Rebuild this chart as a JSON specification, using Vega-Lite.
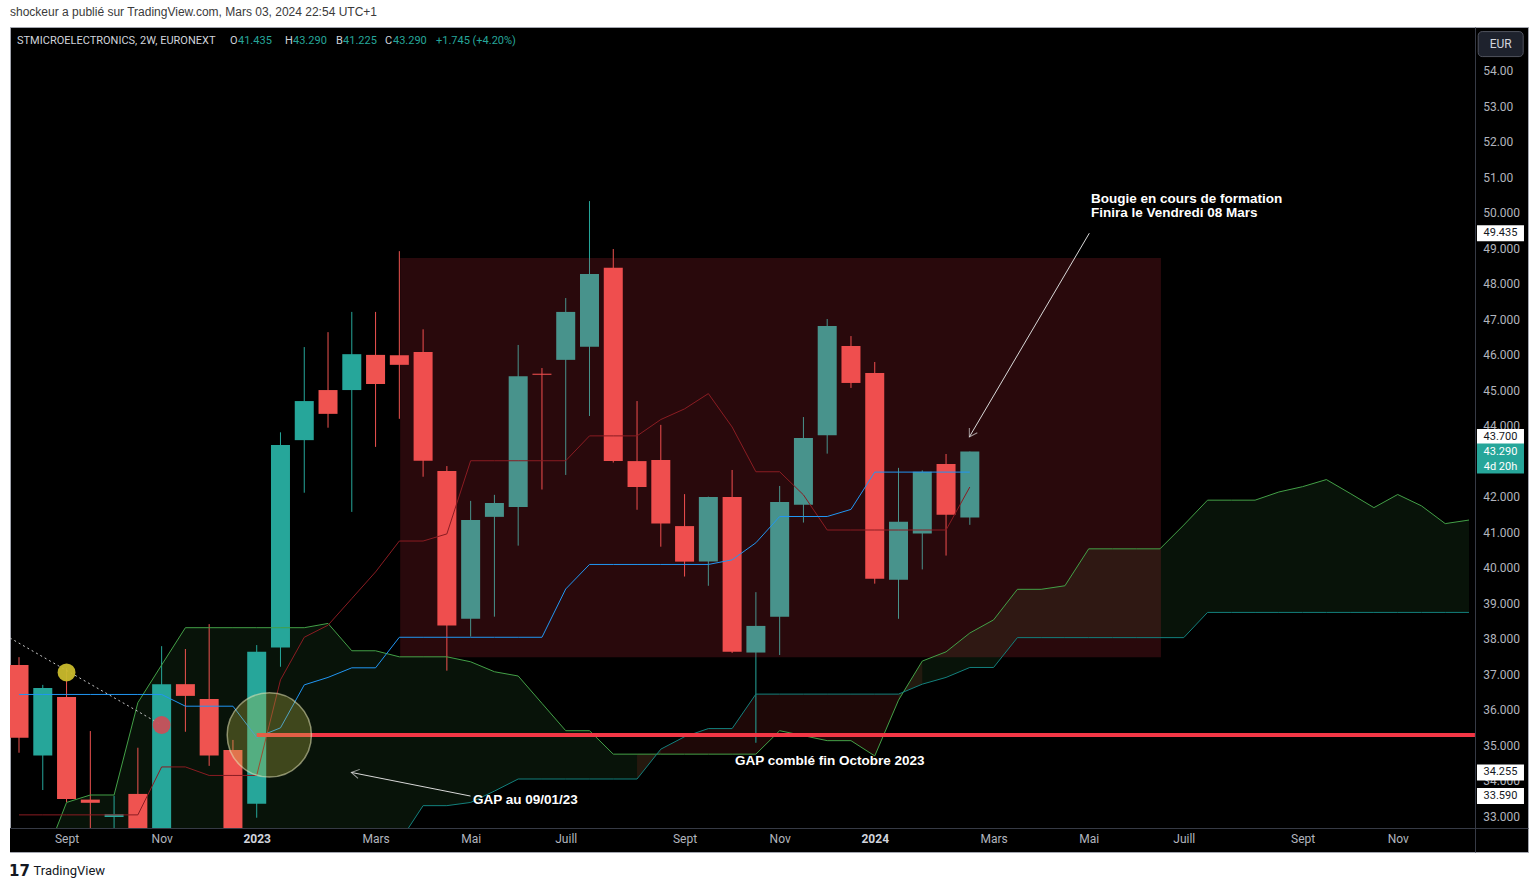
{
  "$schema": "https://vega.github.io/schema/vega-lite/v6.json",
  "width": 1518,
  "height": 825,
  "autosize": {"type": "none"},
  "padding": {"left": 10, "top": 27, "right": 11, "bottom": 36},
  "background": "#ffffff",
  "title": {
    "text": "shockeur a publié sur TradingView.com, Mars 03, 2024 22:54 UTC+1",
    "anchor": "start",
    "frame": "group",
    "font": "Liberation Sans",
    "fontSize": 12,
    "fontWeight": "normal",
    "color": "#3a3a3a",
    "offset": 8
  },
  "datasets": {
    "bars": [
      {"date": "2022-08-15", "open": 37.28, "high": 37.5, "low": 34.81, "close": 35.23, "tenkan": 36.45, "kijun": 33.06},
      {"date": "2022-08-29", "open": 34.73, "high": 36.72, "low": 33.76, "close": 36.63, "tenkan": 36.45, "kijun": 33.06},
      {"date": "2022-09-12", "open": 36.38, "high": 37.19, "low": 33.42, "close": 33.51, "tenkan": 36.45, "kijun": 33.06},
      {"date": "2022-09-26", "open": 33.49, "high": 35.42, "low": 32.5, "close": 33.4, "tenkan": 36.45, "kijun": 33.06},
      {"date": "2022-10-10", "open": 33.0, "high": 33.6, "low": 32.4, "close": 33.08, "tenkan": 36.45, "kijun": 33.06},
      {"date": "2022-10-24", "open": 33.65, "high": 34.95, "low": 32.2, "close": 32.4, "tenkan": 36.45, "kijun": 33.06},
      {"date": "2022-11-07", "open": 32.3, "high": 37.81, "low": 32.0, "close": 36.74, "tenkan": 36.45, "kijun": 34.41},
      {"date": "2022-11-21", "open": 36.74, "high": 37.73, "low": 35.4, "close": 36.41, "tenkan": 36.12, "kijun": 34.41},
      {"date": "2022-12-05", "open": 36.32, "high": 38.43, "low": 34.44, "close": 34.73, "tenkan": 36.12, "kijun": 34.17},
      {"date": "2022-12-19", "open": 34.89, "high": 35.17, "low": 32.3, "close": 32.55, "tenkan": 36.12, "kijun": 34.17},
      {"date": "2023-01-02", "open": 33.37, "high": 37.84, "low": 32.98, "close": 37.65, "tenkan": 35.24, "kijun": 34.17},
      {"date": "2023-01-16", "open": 37.77, "high": 43.83, "low": 37.23, "close": 43.47, "tenkan": 35.51, "kijun": 36.86},
      {"date": "2023-01-30", "open": 43.61, "high": 46.23, "low": 42.13, "close": 44.71, "tenkan": 36.72, "kijun": 38.06},
      {"date": "2023-02-13", "open": 45.02, "high": 46.65, "low": 43.96, "close": 44.35, "tenkan": 36.93, "kijun": 38.4},
      {"date": "2023-02-27", "open": 45.02, "high": 47.22, "low": 41.59, "close": 46.03, "tenkan": 37.2, "kijun": 39.15},
      {"date": "2023-03-13", "open": 46.01, "high": 47.22, "low": 43.42, "close": 45.19, "tenkan": 37.2, "kijun": 39.9},
      {"date": "2023-03-27", "open": 46.0, "high": 48.93, "low": 44.21, "close": 45.73, "tenkan": 38.06, "kijun": 40.77},
      {"date": "2023-04-10", "open": 46.09, "high": 46.73, "low": 42.58, "close": 43.03, "tenkan": 38.06, "kijun": 40.77},
      {"date": "2023-04-24", "open": 42.74, "high": 42.88, "low": 37.12, "close": 38.39, "tenkan": 38.06, "kijun": 40.97},
      {"date": "2023-05-08", "open": 38.58, "high": 41.9, "low": 38.08, "close": 41.36, "tenkan": 38.06, "kijun": 43.03},
      {"date": "2023-05-22", "open": 41.45, "high": 42.07, "low": 38.64, "close": 41.84, "tenkan": 38.06, "kijun": 43.03},
      {"date": "2023-06-05", "open": 41.73, "high": 46.29, "low": 40.64, "close": 45.41, "tenkan": 38.06, "kijun": 43.03},
      {"date": "2023-06-19", "open": 45.48, "high": 45.64, "low": 42.22, "close": 45.45, "tenkan": 38.06, "kijun": 43.03},
      {"date": "2023-07-03", "open": 45.87, "high": 47.61, "low": 42.63, "close": 47.22, "tenkan": 39.42, "kijun": 43.03},
      {"date": "2023-07-17", "open": 46.24, "high": 50.34, "low": 44.29, "close": 48.29, "tenkan": 40.11, "kijun": 43.73},
      {"date": "2023-07-31", "open": 48.46, "high": 48.99, "low": 42.98, "close": 43.02, "tenkan": 40.11, "kijun": 43.73},
      {"date": "2023-08-14", "open": 43.02, "high": 44.71, "low": 41.65, "close": 42.29, "tenkan": 40.11, "kijun": 43.73},
      {"date": "2023-08-28", "open": 43.05, "high": 44.04, "low": 40.61, "close": 41.26, "tenkan": 40.11, "kijun": 44.19},
      {"date": "2023-09-11", "open": 41.19, "high": 42.09, "low": 39.77, "close": 40.19, "tenkan": 40.11, "kijun": 44.49},
      {"date": "2023-09-25", "open": 40.19, "high": 42.02, "low": 39.51, "close": 42.01, "tenkan": 40.11, "kijun": 44.92},
      {"date": "2023-10-09", "open": 42.01, "high": 42.77, "low": 37.62, "close": 37.65, "tenkan": 40.24, "kijun": 43.98},
      {"date": "2023-10-23", "open": 37.63, "high": 39.33, "low": 35.09, "close": 38.38, "tenkan": 40.72, "kijun": 42.72},
      {"date": "2023-11-06", "open": 38.64, "high": 42.32, "low": 37.56, "close": 41.87, "tenkan": 41.46, "kijun": 42.72},
      {"date": "2023-11-20", "open": 41.79, "high": 44.26, "low": 41.29, "close": 43.67, "tenkan": 41.46, "kijun": 42.07},
      {"date": "2023-12-04", "open": 43.75, "high": 47.02, "low": 43.23, "close": 46.82, "tenkan": 41.46, "kijun": 41.08},
      {"date": "2023-12-18", "open": 46.26, "high": 46.54, "low": 45.08, "close": 45.22, "tenkan": 41.66, "kijun": 41.08},
      {"date": "2024-01-01", "open": 45.5, "high": 45.81, "low": 39.57, "close": 39.71, "tenkan": 42.71, "kijun": 41.08},
      {"date": "2024-01-15", "open": 39.68, "high": 42.83, "low": 38.58, "close": 41.31, "tenkan": 42.71, "kijun": 41.08},
      {"date": "2024-01-29", "open": 40.98, "high": 42.76, "low": 39.97, "close": 42.72, "tenkan": 42.71, "kijun": 41.08},
      {"date": "2024-02-12", "open": 42.94, "high": 43.22, "low": 40.36, "close": 41.51, "tenkan": 42.71, "kijun": 41.08},
      {"date": "2024-02-26", "open": 41.435, "high": 43.29, "low": 41.225, "close": 43.29, "tenkan": 42.71, "kijun": 42.29}
    ],
    "cloud": [
      {"date": "2022-08-15", "spanA": 31.5, "spanB": 31.5},
      {"date": "2022-08-29", "spanA": 31.7, "spanB": 31.5},
      {"date": "2022-09-12", "spanA": 33.41, "spanB": 31.5},
      {"date": "2022-09-26", "spanA": 33.62, "spanB": 31.5},
      {"date": "2022-10-10", "spanA": 33.62, "spanB": 31.5},
      {"date": "2022-10-24", "spanA": 36.22, "spanB": 31.5},
      {"date": "2022-11-07", "spanA": 37.28, "spanB": 31.5},
      {"date": "2022-11-21", "spanA": 38.33, "spanB": 31.5},
      {"date": "2022-12-05", "spanA": 38.33, "spanB": 31.5},
      {"date": "2022-12-19", "spanA": 38.33, "spanB": 31.5},
      {"date": "2023-01-02", "spanA": 38.33, "spanB": 31.5},
      {"date": "2023-01-16", "spanA": 38.33, "spanB": 31.5},
      {"date": "2023-01-30", "spanA": 38.33, "spanB": 31.5},
      {"date": "2023-02-13", "spanA": 38.45, "spanB": 31.5},
      {"date": "2023-02-27", "spanA": 37.68, "spanB": 31.5},
      {"date": "2023-03-13", "spanA": 37.68, "spanB": 31.5},
      {"date": "2023-03-27", "spanA": 37.51, "spanB": 32.3},
      {"date": "2023-04-10", "spanA": 37.51, "spanB": 33.32},
      {"date": "2023-04-24", "spanA": 37.51, "spanB": 33.32},
      {"date": "2023-05-08", "spanA": 37.37, "spanB": 33.41},
      {"date": "2023-05-22", "spanA": 37.09, "spanB": 33.73},
      {"date": "2023-06-05", "spanA": 36.97, "spanB": 34.07},
      {"date": "2023-06-19", "spanA": 36.2, "spanB": 34.07},
      {"date": "2023-07-03", "spanA": 35.43, "spanB": 34.07},
      {"date": "2023-07-17", "spanA": 35.43, "spanB": 34.07},
      {"date": "2023-07-31", "spanA": 34.77, "spanB": 34.07},
      {"date": "2023-08-14", "spanA": 34.77, "spanB": 34.07},
      {"date": "2023-08-28", "spanA": 34.77, "spanB": 34.91},
      {"date": "2023-09-11", "spanA": 34.77, "spanB": 35.26},
      {"date": "2023-09-25", "spanA": 34.77, "spanB": 35.49},
      {"date": "2023-10-09", "spanA": 34.77, "spanB": 35.49},
      {"date": "2023-10-23", "spanA": 34.77, "spanB": 36.46},
      {"date": "2023-11-06", "spanA": 35.43, "spanB": 36.46},
      {"date": "2023-11-20", "spanA": 35.29, "spanB": 36.46},
      {"date": "2023-12-04", "spanA": 35.15, "spanB": 36.46},
      {"date": "2023-12-18", "spanA": 35.15, "spanB": 36.46},
      {"date": "2024-01-01", "spanA": 34.72, "spanB": 36.46},
      {"date": "2024-01-15", "spanA": 36.29, "spanB": 36.46},
      {"date": "2024-01-29", "spanA": 37.39, "spanB": 36.74},
      {"date": "2024-02-12", "spanA": 37.65, "spanB": 36.93},
      {"date": "2024-02-26", "spanA": 38.18, "spanB": 37.21},
      {"date": "2024-03-11", "spanA": 38.55, "spanB": 37.21},
      {"date": "2024-03-25", "spanA": 39.41, "spanB": 38.05},
      {"date": "2024-04-08", "spanA": 39.41, "spanB": 38.05},
      {"date": "2024-04-22", "spanA": 39.51, "spanB": 38.05},
      {"date": "2024-05-06", "spanA": 40.55, "spanB": 38.05},
      {"date": "2024-05-20", "spanA": 40.55, "spanB": 38.05},
      {"date": "2024-06-03", "spanA": 40.55, "spanB": 38.05},
      {"date": "2024-06-17", "spanA": 40.55, "spanB": 38.05},
      {"date": "2024-07-01", "spanA": 41.22, "spanB": 38.05},
      {"date": "2024-07-15", "spanA": 41.92, "spanB": 38.76},
      {"date": "2024-07-29", "spanA": 41.92, "spanB": 38.76},
      {"date": "2024-08-12", "spanA": 41.92, "spanB": 38.76},
      {"date": "2024-08-26", "spanA": 42.15, "spanB": 38.76},
      {"date": "2024-09-09", "spanA": 42.3, "spanB": 38.76},
      {"date": "2024-09-23", "spanA": 42.5, "spanB": 38.76},
      {"date": "2024-10-07", "spanA": 42.11, "spanB": 38.76},
      {"date": "2024-10-21", "spanA": 41.71, "spanB": 38.76},
      {"date": "2024-11-04", "spanA": 42.08, "spanB": 38.76},
      {"date": "2024-11-18", "spanA": 41.76, "spanB": 38.76},
      {"date": "2024-12-02", "spanA": 41.26, "spanB": 38.76},
      {"date": "2024-12-16", "spanA": 41.36, "spanB": 38.76}
    ],
    "drawings": [
      {"kind": "box", "date": "2023-03-27T12:00:00Z", "date2": "2024-06-17T14:00:00Z", "price": 48.74, "price2": 37.5},
      {"kind": "gap", "date": "2023-01-02", "date2": "2024-12-19T12:00:00Z", "price": 35.31, "price2": 35.31},
      {"kind": "trend", "date": "2022-08-09T16:40:00Z", "date2": "2022-11-07", "price": 38.04, "price2": 35.59},
      {"kind": "arrow1", "date": "2024-05-06T09:00:00Z", "date2": "2024-02-25T17:00:00Z", "price": 49.435, "price2": 43.7},
      {"kind": "arrow2", "date": "2023-05-07T22:00:00Z", "date2": "2023-02-26T17:00:00Z", "price": 33.59, "price2": 34.255}
    ],
    "markers": [
      {"kind": "yellow", "date": "2022-09-12", "price": 37.07},
      {"kind": "red", "date": "2022-11-07", "price": 35.59},
      {"kind": "zone", "date": "2023-01-09T10:00:00Z", "price": 35.31}
    ],
    "notes": [
      {"text": "Bougie en cours de formation", "date": "2024-05-07T09:00:00Z", "price": 50.4},
      {"text": "Finira le Vendredi 08 Mars", "date": "2024-05-07T09:00:00Z", "price": 50.0},
      {"text": "GAP au 09/01/23", "date": "2023-05-09T09:00:00Z", "price": 33.48},
      {"text": "GAP comblé  fin Octobre 2023", "date": "2023-10-10T17:00:00Z", "price": 34.58}
    ],
    "legend": [
      {"text": "STMICROELECTRONICS, 2W, EURONEXT", "role": "key", "date": "2022-08-13T20:00:00Z"},
      {"text": "O", "role": "key", "date": "2022-12-17T06:30:00Z"},
      {"text": "41.435", "role": "value", "date": "2022-12-21T23:30:00Z"},
      {"text": "H", "role": "key", "date": "2023-01-18T16:00:00Z"},
      {"text": "43.290", "role": "value", "date": "2023-01-23T09:00:00Z"},
      {"text": "B", "role": "key", "date": "2023-02-17T17:00:00Z"},
      {"text": "41.225", "role": "value", "date": "2023-02-21T20:00:00Z"},
      {"text": "C", "role": "key", "date": "2023-03-18T13:00:00Z"},
      {"text": "43.290", "role": "value", "date": "2023-03-23T06:00:00Z"},
      {"text": "+1.745 (+4.20%)", "role": "value", "date": "2023-04-17T14:00:00Z"}
    ],
    "priceScale": [
      {"price": 33}, {"price": 34}, {"price": 35}, {"price": 36}, {"price": 37}, {"price": 38},
      {"price": 39}, {"price": 40}, {"price": 41}, {"price": 42}, {"price": 43}, {"price": 44},
      {"price": 45}, {"price": 46}, {"price": 47}, {"price": 48}, {"price": 49}, {"price": 50},
      {"price": 51}, {"price": 52}, {"price": 53}, {"price": 54}
    ],
    "levels": [
      {"kind": "level", "price": 49.435, "label": "49.435", "countdown": ""},
      {"kind": "level", "price": 43.7, "label": "43.700", "countdown": ""},
      {"kind": "level", "price": 34.255, "label": "34.255", "countdown": ""},
      {"kind": "level", "price": 33.59, "label": "33.590", "countdown": ""},
      {"kind": "last", "price": 43.29, "label": "43.290", "countdown": "4d 20h"}
    ]
  },
  "layer": [
    {
      "data": {"name": "cloud"},
      "transform": [{"filter": {"field": "date", "lte": {"year": 2023, "month": 8, "date": 28, "utc": true}}}],
      "mark": {"type": "area", "color": "#43a047", "opacity": 0.12, "clip": true},
      "encoding": {
        "x": {
          "field": "date", "type": "temporal",
          "scale": {"type": "utc", "nice": false, "padding": 0, "domain": [{"year": 2022, "month": 8, "date": 9, "hours": 16, "minutes": 40, "utc": true}, {"year": 2025, "month": 1, "date": 19, "hours": 18, "utc": true}]},
          "axis": {
            "orient": "bottom",
            "offset": -24,
            "values": [
              {"year": 2022, "month": 9, "date": 12, "utc": true},
              {"year": 2022, "month": 11, "date": 7, "utc": true},
              {"year": 2023, "month": 1, "date": 2, "utc": true},
              {"year": 2023, "month": 3, "date": 13, "utc": true},
              {"year": 2023, "month": 5, "date": 8, "utc": true},
              {"year": 2023, "month": 7, "date": 3, "utc": true},
              {"year": 2023, "month": 9, "date": 11, "utc": true},
              {"year": 2023, "month": 11, "date": 6, "utc": true},
              {"year": 2024, "month": 1, "date": 1, "utc": true},
              {"year": 2024, "month": 3, "date": 11, "utc": true},
              {"year": 2024, "month": 5, "date": 6, "utc": true},
              {"year": 2024, "month": 7, "date": 1, "utc": true},
              {"year": 2024, "month": 9, "date": 9, "utc": true},
              {"year": 2024, "month": 11, "date": 4, "utc": true}
            ],
            "labelExpr": "utcmonth(datum.value) == 0 ? utcFormat(datum.value, '%Y') : ['Janv','Févr','Mars','Avr','Mai','Juin','Juill','Août','Sept','Oct','Nov','Déc'][utcmonth(datum.value)]",
            "labelFontWeight": {"condition": {"test": "utcmonth(datum.value) == 0", "value": "bold"}, "value": "normal"},
            "labelColor": {"condition": {"test": "utcmonth(datum.value) == 0", "value": "#d1d4dc"}, "value": "#b2b5be"},
            "labelFont": "Roboto",
            "labelFontSize": 12,
            "labelPadding": 5,
            "labelFlush": false,
            "labelOverlap": false,
            "ticks": false,
            "grid": false,
            "domainColor": "#363a45",
            "zindex": 1,
            "title": "TradingView",
            "titleX": 23,
            "titleY": 42,
            "titleAlign": "left",
            "titleAnchor": "start",
            "titleBaseline": "middle",
            "titleFont": "Roboto",
            "titleFontSize": 13,
            "titleFontWeight": "normal",
            "titleColor": "#131722"
          }
        },
        "y": {
          "field": "spanA", "type": "quantitative",
          "scale": {"domain": [32.015, 55.241], "nice": false, "zero": false, "padding": 0},
          "axis": {
            "orient": "right",
            "offset": -53,
            "labels": false,
            "ticks": false,
            "grid": false,
            "domainColor": "#363a45",
            "zindex": 0,
            "title": "17",
            "titleX": -1456,
            "titleY": 843,
            "titleAngle": 0,
            "titleAlign": "center",
            "titleBaseline": "middle",
            "titleFont": "DejaVu Sans",
            "titleFontSize": 15,
            "titleFontWeight": 900,
            "titleColor": "#131722"
          }
        },
        "y2": {"field": "spanB"}
      }
    },
    {
      "data": {"name": "cloud"},
      "transform": [{"filter": {"field": "date", "range": [{"year": 2023, "month": 8, "date": 14, "utc": true}, {"year": 2024, "month": 1, "date": 29, "utc": true}]}}],
      "mark": {"type": "area", "color": "#f44336", "opacity": 0.12, "clip": true},
      "encoding": {
        "x": {"field": "date", "type": "temporal", "scale": {"type": "utc", "nice": false, "padding": 0, "domain": [{"year": 2022, "month": 8, "date": 9, "hours": 16, "minutes": 40, "utc": true}, {"year": 2025, "month": 1, "date": 19, "hours": 18, "utc": true}]}},
        "y": {"field": "spanA", "type": "quantitative", "scale": {"domain": [32.015, 55.241], "nice": false, "zero": false, "padding": 0}},
        "y2": {"field": "spanB"}
      }
    },
    {
      "data": {"name": "cloud"},
      "transform": [{"filter": {"field": "date", "gte": {"year": 2024, "month": 1, "date": 15, "utc": true}}}],
      "mark": {"type": "area", "color": "#43a047", "opacity": 0.12, "clip": true},
      "encoding": {
        "x": {"field": "date", "type": "temporal", "scale": {"type": "utc", "nice": false, "padding": 0, "domain": [{"year": 2022, "month": 8, "date": 9, "hours": 16, "minutes": 40, "utc": true}, {"year": 2025, "month": 1, "date": 19, "hours": 18, "utc": true}]}},
        "y": {"field": "spanA", "type": "quantitative", "scale": {"domain": [32.015, 55.241], "nice": false, "zero": false, "padding": 0}},
        "y2": {"field": "spanB"}
      }
    },
    {
      "data": {"name": "bars"},
      "mark": {"type": "rule", "strokeWidth": 1, "clip": true},
      "encoding": {
        "x": {"field": "date", "type": "temporal", "scale": {"type": "utc", "nice": false, "padding": 0, "domain": [{"year": 2022, "month": 8, "date": 9, "hours": 16, "minutes": 40, "utc": true}, {"year": 2025, "month": 1, "date": 19, "hours": 18, "utc": true}]}},
        "y": {"field": "low", "type": "quantitative", "scale": {"domain": [32.015, 55.241], "nice": false, "zero": false, "padding": 0}},
        "y2": {"field": "high"},
        "color": {"condition": {"test": "datum.close >= datum.open", "value": "#26a69a"}, "value": "#ef5350"}
      }
    },
    {
      "data": {"name": "bars"},
      "mark": {"type": "bar", "size": 19, "clip": true},
      "encoding": {
        "x": {"field": "date", "type": "temporal", "scale": {"type": "utc", "nice": false, "padding": 0, "domain": [{"year": 2022, "month": 8, "date": 9, "hours": 16, "minutes": 40, "utc": true}, {"year": 2025, "month": 1, "date": 19, "hours": 18, "utc": true}]}},
        "y": {"field": "open", "type": "quantitative", "scale": {"domain": [32.015, 55.241], "nice": false, "zero": false, "padding": 0}},
        "y2": {"field": "close"},
        "color": {"condition": {"test": "datum.close >= datum.open", "value": "#26a69a"}, "value": "#ef5350"}
      }
    },
    {
      "data": {"name": "drawings"},
      "transform": [{"filter": "datum.kind == 'box'"}],
      "mark": {"type": "rect", "color": "#f23645", "opacity": 0.17, "clip": true},
      "encoding": {
        "x": {"field": "date", "type": "temporal", "scale": {"type": "utc", "nice": false, "padding": 0, "domain": [{"year": 2022, "month": 8, "date": 9, "hours": 16, "minutes": 40, "utc": true}, {"year": 2025, "month": 1, "date": 19, "hours": 18, "utc": true}]}},
        "x2": {"field": "date2"},
        "y": {"field": "price", "type": "quantitative", "scale": {"domain": [32.015, 55.241], "nice": false, "zero": false, "padding": 0}},
        "y2": {"field": "price2"}
      }
    },
    {
      "data": {"name": "cloud"},
      "mark": {"type": "line", "color": "#43a047", "strokeWidth": 1, "clip": true},
      "encoding": {
        "x": {"field": "date", "type": "temporal", "scale": {"type": "utc", "nice": false, "padding": 0, "domain": [{"year": 2022, "month": 8, "date": 9, "hours": 16, "minutes": 40, "utc": true}, {"year": 2025, "month": 1, "date": 19, "hours": 18, "utc": true}]}},
        "y": {"field": "spanA", "type": "quantitative", "scale": {"domain": [32.015, 55.241], "nice": false, "zero": false, "padding": 0}}
      }
    },
    {
      "data": {"name": "cloud"},
      "mark": {"type": "line", "color": "#13807d", "strokeWidth": 1, "clip": true},
      "encoding": {
        "x": {"field": "date", "type": "temporal", "scale": {"type": "utc", "nice": false, "padding": 0, "domain": [{"year": 2022, "month": 8, "date": 9, "hours": 16, "minutes": 40, "utc": true}, {"year": 2025, "month": 1, "date": 19, "hours": 18, "utc": true}]}},
        "y": {"field": "spanB", "type": "quantitative", "scale": {"domain": [32.015, 55.241], "nice": false, "zero": false, "padding": 0}}
      }
    },
    {
      "data": {"name": "bars"},
      "mark": {"type": "line", "color": "#8a1c22", "strokeWidth": 1, "clip": true},
      "encoding": {
        "x": {"field": "date", "type": "temporal", "scale": {"type": "utc", "nice": false, "padding": 0, "domain": [{"year": 2022, "month": 8, "date": 9, "hours": 16, "minutes": 40, "utc": true}, {"year": 2025, "month": 1, "date": 19, "hours": 18, "utc": true}]}},
        "y": {"field": "kijun", "type": "quantitative", "scale": {"domain": [32.015, 55.241], "nice": false, "zero": false, "padding": 0}}
      }
    },
    {
      "data": {"name": "bars"},
      "mark": {"type": "line", "color": "#2196f3", "strokeWidth": 1, "clip": true},
      "encoding": {
        "x": {"field": "date", "type": "temporal", "scale": {"type": "utc", "nice": false, "padding": 0, "domain": [{"year": 2022, "month": 8, "date": 9, "hours": 16, "minutes": 40, "utc": true}, {"year": 2025, "month": 1, "date": 19, "hours": 18, "utc": true}]}},
        "y": {"field": "tenkan", "type": "quantitative", "scale": {"domain": [32.015, 55.241], "nice": false, "zero": false, "padding": 0}}
      }
    },
    {
      "data": {"name": "drawings"},
      "transform": [{"filter": "datum.kind == 'gap'"}],
      "mark": {"type": "rule", "color": "#f23645", "strokeWidth": 4, "clip": true},
      "encoding": {
        "x": {"field": "date", "type": "temporal", "scale": {"type": "utc", "nice": false, "padding": 0, "domain": [{"year": 2022, "month": 8, "date": 9, "hours": 16, "minutes": 40, "utc": true}, {"year": 2025, "month": 1, "date": 19, "hours": 18, "utc": true}]}},
        "x2": {"field": "date2"},
        "y": {"field": "price", "type": "quantitative", "scale": {"domain": [32.015, 55.241], "nice": false, "zero": false, "padding": 0}}
      }
    },
    {
      "data": {"name": "drawings"},
      "transform": [{"filter": "datum.kind == 'trend'"}],
      "mark": {"type": "rule", "color": "#c8c8c8", "strokeWidth": 1, "strokeDash": [2, 3], "clip": true},
      "encoding": {
        "x": {"field": "date", "type": "temporal", "scale": {"type": "utc", "nice": false, "padding": 0, "domain": [{"year": 2022, "month": 8, "date": 9, "hours": 16, "minutes": 40, "utc": true}, {"year": 2025, "month": 1, "date": 19, "hours": 18, "utc": true}]}},
        "x2": {"field": "date2"},
        "y": {"field": "price", "type": "quantitative", "scale": {"domain": [32.015, 55.241], "nice": false, "zero": false, "padding": 0}},
        "y2": {"field": "price2"}
      }
    },
    {
      "data": {"name": "markers"},
      "transform": [{"filter": "datum.kind == 'yellow'"}],
      "mark": {"type": "point", "shape": "circle", "filled": true, "size": 320, "color": "#c9bb2c", "opacity": 0.95},
      "encoding": {
        "x": {"field": "date", "type": "temporal", "scale": {"type": "utc", "nice": false, "padding": 0, "domain": [{"year": 2022, "month": 8, "date": 9, "hours": 16, "minutes": 40, "utc": true}, {"year": 2025, "month": 1, "date": 19, "hours": 18, "utc": true}]}},
        "y": {"field": "price", "type": "quantitative", "scale": {"domain": [32.015, 55.241], "nice": false, "zero": false, "padding": 0}}
      }
    },
    {
      "data": {"name": "markers"},
      "transform": [{"filter": "datum.kind == 'red'"}],
      "mark": {"type": "point", "shape": "circle", "filled": true, "size": 320, "color": "#cc4d57", "opacity": 0.92},
      "encoding": {
        "x": {"field": "date", "type": "temporal", "scale": {"type": "utc", "nice": false, "padding": 0, "domain": [{"year": 2022, "month": 8, "date": 9, "hours": 16, "minutes": 40, "utc": true}, {"year": 2025, "month": 1, "date": 19, "hours": 18, "utc": true}]}},
        "y": {"field": "price", "type": "quantitative", "scale": {"domain": [32.015, 55.241], "nice": false, "zero": false, "padding": 0}}
      }
    },
    {
      "data": {"name": "markers"},
      "transform": [{"filter": "datum.kind == 'zone'"}],
      "mark": {"type": "point", "shape": "circle", "filled": true, "size": 7100, "fill": "#c1c149", "fillOpacity": 0.3, "stroke": "#e6e6b8", "strokeOpacity": 0.55, "strokeWidth": 1.5},
      "encoding": {
        "x": {"field": "date", "type": "temporal", "scale": {"type": "utc", "nice": false, "padding": 0, "domain": [{"year": 2022, "month": 8, "date": 9, "hours": 16, "minutes": 40, "utc": true}, {"year": 2025, "month": 1, "date": 19, "hours": 18, "utc": true}]}},
        "y": {"field": "price", "type": "quantitative", "scale": {"domain": [32.015, 55.241], "nice": false, "zero": false, "padding": 0}}
      }
    },
    {
      "data": {"values": [{}]},
      "mark": {"type": "rect", "color": "#000000", "clip": true},
      "encoding": {
        "x": {"datum": {"year": 2022, "month": 8, "date": 9, "hours": 16, "minutes": 40, "utc": true}, "type": "temporal", "scale": {"type": "utc", "nice": false, "padding": 0, "domain": [{"year": 2022, "month": 8, "date": 9, "hours": 16, "minutes": 40, "utc": true}, {"year": 2025, "month": 1, "date": 19, "hours": 18, "utc": true}]}},
        "x2": {"datum": {"year": 2023, "month": 5, "date": 20, "utc": true}},
        "y": {"datum": 31, "type": "quantitative", "scale": {"domain": [32.015, 55.241], "nice": false, "zero": false, "padding": 0}},
        "y2": {"datum": 32.69}
      }
    },
    {
      "data": {"name": "drawings"},
      "transform": [{"filter": "datum.kind == 'arrow1' || datum.kind == 'arrow2'"}],
      "mark": {"type": "rule", "color": "#d8d8d8", "strokeWidth": 1},
      "encoding": {
        "x": {"field": "date", "type": "temporal", "scale": {"type": "utc", "nice": false, "padding": 0, "domain": [{"year": 2022, "month": 8, "date": 9, "hours": 16, "minutes": 40, "utc": true}, {"year": 2025, "month": 1, "date": 19, "hours": 18, "utc": true}]}},
        "x2": {"field": "date2"},
        "y": {"field": "price", "type": "quantitative", "scale": {"domain": [32.015, 55.241], "nice": false, "zero": false, "padding": 0}},
        "y2": {"field": "price2"}
      }
    },
    {
      "data": {"name": "drawings"},
      "transform": [{"filter": "datum.kind == 'arrow1'"}],
      "mark": {"type": "point", "shape": "M -0.6 -1 L 0 0 L 0.6 -1", "filled": false, "size": 240, "stroke": "#d8d8d8", "strokeWidth": 1, "angle": 31},
      "encoding": {
        "x": {"field": "date2", "type": "temporal", "scale": {"type": "utc", "nice": false, "padding": 0, "domain": [{"year": 2022, "month": 8, "date": 9, "hours": 16, "minutes": 40, "utc": true}, {"year": 2025, "month": 1, "date": 19, "hours": 18, "utc": true}]}},
        "y": {"field": "price2", "type": "quantitative", "scale": {"domain": [32.015, 55.241], "nice": false, "zero": false, "padding": 0}}
      }
    },
    {
      "data": {"name": "drawings"},
      "transform": [{"filter": "datum.kind == 'arrow2'"}],
      "mark": {"type": "point", "shape": "M -0.6 -1 L 0 0 L 0.6 -1", "filled": false, "size": 240, "stroke": "#d8d8d8", "strokeWidth": 1, "angle": 101},
      "encoding": {
        "x": {"field": "date2", "type": "temporal", "scale": {"type": "utc", "nice": false, "padding": 0, "domain": [{"year": 2022, "month": 8, "date": 9, "hours": 16, "minutes": 40, "utc": true}, {"year": 2025, "month": 1, "date": 19, "hours": 18, "utc": true}]}},
        "y": {"field": "price2", "type": "quantitative", "scale": {"domain": [32.015, 55.241], "nice": false, "zero": false, "padding": 0}}
      }
    },
    {
      "data": {"name": "notes"},
      "mark": {"type": "text", "align": "left", "baseline": "middle", "font": "Liberation Sans", "fontSize": 13.5, "fontWeight": "bold", "color": "#ffffff"},
      "encoding": {
        "x": {"field": "date", "type": "temporal", "scale": {"type": "utc", "nice": false, "padding": 0, "domain": [{"year": 2022, "month": 8, "date": 9, "hours": 16, "minutes": 40, "utc": true}, {"year": 2025, "month": 1, "date": 19, "hours": 18, "utc": true}]}},
        "y": {"field": "price", "type": "quantitative", "scale": {"domain": [32.015, 55.241], "nice": false, "zero": false, "padding": 0}},
        "text": {"field": "text"}
      }
    },
    {
      "data": {"name": "legend"},
      "mark": {"type": "text", "align": "left", "baseline": "middle", "font": "Roboto", "fontSize": 11},
      "encoding": {
        "x": {"field": "date", "type": "temporal", "scale": {"type": "utc", "nice": false, "padding": 0, "domain": [{"year": 2022, "month": 8, "date": 9, "hours": 16, "minutes": 40, "utc": true}, {"year": 2025, "month": 1, "date": 19, "hours": 18, "utc": true}]}},
        "y": {"datum": 54.85, "type": "quantitative", "scale": {"domain": [32.015, 55.241], "nice": false, "zero": false, "padding": 0}},
        "text": {"field": "text"},
        "color": {"field": "role", "type": "nominal", "scale": {"domain": ["key", "value"], "range": ["#d1d4dc", "#26a69a"]}, "legend": null}
      }
    },
    {
      "data": {"name": "priceScale"},
      "transform": [{"filter": "datum.price >= 51"}],
      "mark": {"type": "text", "align": "left", "baseline": "middle", "font": "Roboto", "fontSize": 12, "color": "#b2b5be"},
      "encoding": {
        "x": {"datum": {"year": 2024, "month": 12, "date": 24, "hours": 8, "utc": true}, "type": "temporal", "scale": {"type": "utc", "nice": false, "padding": 0, "domain": [{"year": 2022, "month": 8, "date": 9, "hours": 16, "minutes": 40, "utc": true}, {"year": 2025, "month": 1, "date": 19, "hours": 18, "utc": true}]}},
        "y": {"field": "price", "type": "quantitative", "scale": {"domain": [32.015, 55.241], "nice": false, "zero": false, "padding": 0}},
        "text": {"field": "price", "type": "quantitative", "format": ".2f"}
      }
    },
    {
      "data": {"name": "priceScale"},
      "transform": [{"filter": "datum.price < 51"}],
      "mark": {"type": "text", "align": "left", "baseline": "middle", "font": "Roboto", "fontSize": 12, "color": "#b2b5be"},
      "encoding": {
        "x": {"datum": {"year": 2024, "month": 12, "date": 24, "hours": 8, "utc": true}, "type": "temporal", "scale": {"type": "utc", "nice": false, "padding": 0, "domain": [{"year": 2022, "month": 8, "date": 9, "hours": 16, "minutes": 40, "utc": true}, {"year": 2025, "month": 1, "date": 19, "hours": 18, "utc": true}]}},
        "y": {"field": "price", "type": "quantitative", "scale": {"domain": [32.015, 55.241], "nice": false, "zero": false, "padding": 0}},
        "text": {"field": "price", "type": "quantitative", "format": ".3f"}
      }
    },
    {
      "data": {"values": [{}]},
      "mark": {"type": "tick", "orient": "horizontal", "size": 45, "thickness": 25, "color": "#1e222d", "stroke": "#50535e", "strokeWidth": 1, "cornerRadius": 4, "opacity": 1},
      "encoding": {
        "x": {"datum": {"year": 2025, "month": 1, "date": 3, "hours": 16, "utc": true}, "type": "temporal", "scale": {"type": "utc", "nice": false, "padding": 0, "domain": [{"year": 2022, "month": 8, "date": 9, "hours": 16, "minutes": 40, "utc": true}, {"year": 2025, "month": 1, "date": 19, "hours": 18, "utc": true}]}},
        "y": {"datum": 54.76, "type": "quantitative", "scale": {"domain": [32.015, 55.241], "nice": false, "zero": false, "padding": 0}}
      }
    },
    {
      "data": {"values": [{"text": "EUR"}]},
      "mark": {"type": "text", "align": "center", "baseline": "middle", "font": "Roboto", "fontSize": 12, "color": "#d1d4dc"},
      "encoding": {
        "x": {"datum": {"year": 2025, "month": 1, "date": 3, "hours": 16, "utc": true}, "type": "temporal", "scale": {"type": "utc", "nice": false, "padding": 0, "domain": [{"year": 2022, "month": 8, "date": 9, "hours": 16, "minutes": 40, "utc": true}, {"year": 2025, "month": 1, "date": 19, "hours": 18, "utc": true}]}},
        "y": {"datum": 54.76, "type": "quantitative", "scale": {"domain": [32.015, 55.241], "nice": false, "zero": false, "padding": 0}},
        "text": {"field": "text"}
      }
    },
    {
      "data": {"name": "levels"},
      "transform": [{"filter": "datum.kind == 'level'"}],
      "mark": {"type": "tick", "orient": "horizontal", "size": 47, "thickness": 16, "color": "#ffffff", "opacity": 1},
      "encoding": {
        "x": {"datum": {"year": 2025, "month": 1, "date": 3, "hours": 13, "utc": true}, "type": "temporal", "scale": {"type": "utc", "nice": false, "padding": 0, "domain": [{"year": 2022, "month": 8, "date": 9, "hours": 16, "minutes": 40, "utc": true}, {"year": 2025, "month": 1, "date": 19, "hours": 18, "utc": true}]}},
        "y": {"field": "price", "type": "quantitative", "scale": {"domain": [32.015, 55.241], "nice": false, "zero": false, "padding": 0}}
      }
    },
    {
      "data": {"name": "levels"},
      "transform": [{"filter": "datum.kind == 'last'"}],
      "mark": {"type": "tick", "orient": "horizontal", "size": 47, "thickness": 30, "yOffset": 7, "color": "#26a69a", "opacity": 1},
      "encoding": {
        "x": {"datum": {"year": 2025, "month": 1, "date": 3, "hours": 13, "utc": true}, "type": "temporal", "scale": {"type": "utc", "nice": false, "padding": 0, "domain": [{"year": 2022, "month": 8, "date": 9, "hours": 16, "minutes": 40, "utc": true}, {"year": 2025, "month": 1, "date": 19, "hours": 18, "utc": true}]}},
        "y": {"field": "price", "type": "quantitative", "scale": {"domain": [32.015, 55.241], "nice": false, "zero": false, "padding": 0}}
      }
    },
    {
      "data": {"name": "levels"},
      "mark": {"type": "text", "align": "center", "baseline": "middle", "font": "Roboto", "fontSize": 11},
      "encoding": {
        "x": {"datum": {"year": 2025, "month": 1, "date": 3, "hours": 13, "utc": true}, "type": "temporal", "scale": {"type": "utc", "nice": false, "padding": 0, "domain": [{"year": 2022, "month": 8, "date": 9, "hours": 16, "minutes": 40, "utc": true}, {"year": 2025, "month": 1, "date": 19, "hours": 18, "utc": true}]}},
        "y": {"field": "price", "type": "quantitative", "scale": {"domain": [32.015, 55.241], "nice": false, "zero": false, "padding": 0}},
        "text": {"field": "label"},
        "color": {"condition": {"test": "datum.kind == 'last'", "value": "#ffffff"}, "value": "#131722"},
        "fontWeight": {"condition": {"test": "datum.kind == 'last'", "value": "bold"}, "value": "normal"}
      }
    },
    {
      "data": {"name": "levels"},
      "transform": [{"filter": "datum.kind == 'last'"}],
      "mark": {"type": "text", "align": "center", "baseline": "middle", "font": "Roboto", "fontSize": 11, "dy": 15, "color": "#ffffff"},
      "encoding": {
        "x": {"datum": {"year": 2025, "month": 1, "date": 3, "hours": 13, "utc": true}, "type": "temporal", "scale": {"type": "utc", "nice": false, "padding": 0, "domain": [{"year": 2022, "month": 8, "date": 9, "hours": 16, "minutes": 40, "utc": true}, {"year": 2025, "month": 1, "date": 19, "hours": 18, "utc": true}]}},
        "y": {"field": "price", "type": "quantitative", "scale": {"domain": [32.015, 55.241], "nice": false, "zero": false, "padding": 0}},
        "text": {"field": "countdown"}
      }
    }
  ],
  "config": {
    "view": {"fill": "#000000", "stroke": "#a3a6af", "strokeWidth": 1},
    "axis": {"labelOverlap": false}
  }
}
